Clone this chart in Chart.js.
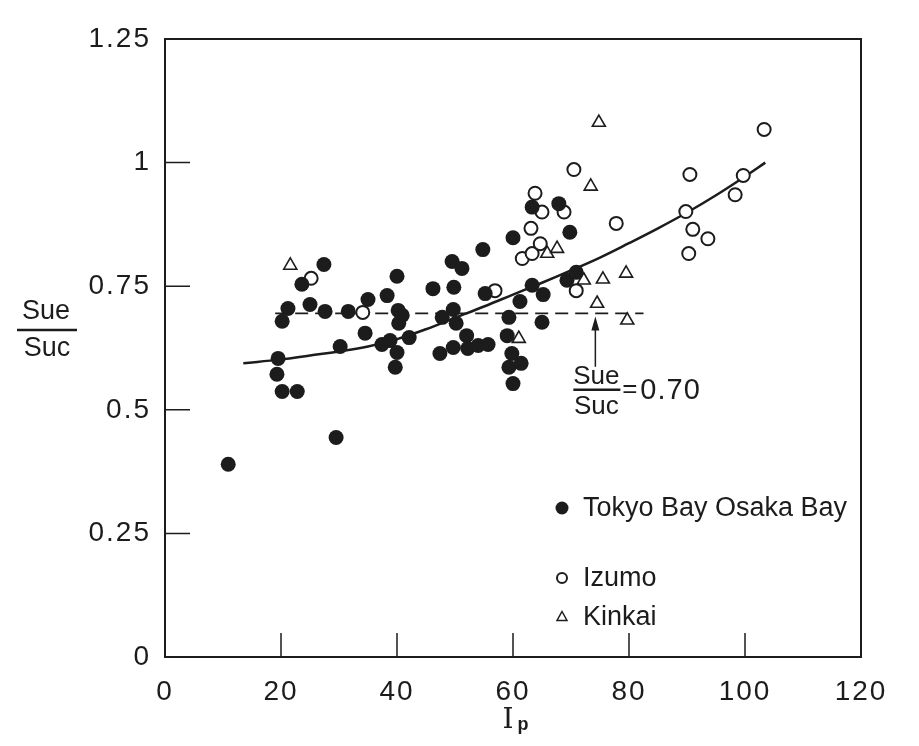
<!DOCTYPE html>
<html lang="en">
<head>
  <meta charset="UTF-8">
  <title>Sue/Suc vs Ip</title>
  <script src="https://cdn.jsdelivr.net/npm/chart.js"></script>
  <style>
    body {
      margin: 0;
      padding: 0;
      background: #fff;
    }
    .wrap {
      width: 919px;
      height: 746px;
    }
  </style>
</head>
<body>
  <div class="wrap">
    <canvas id="chart" width="919" height="746"></canvas>
  </div>

  <script>
    // Tokyo Bay / Osaka Bay (filled circles)
    const tokyoX = [10.9, 19.5, 19.3, 20.2, 22.8, 20.2, 21.2, 23.6, 25.0, 27.4, 27.6, 29.5, 30.2, 31.6,
      34.5, 35.0, 38.3, 37.4, 38.8, 40.0, 39.7, 40.0, 40.2, 40.9, 40.3, 42.1, 46.2, 47.4, 47.8,
      49.5, 51.2, 49.8, 49.7, 50.2, 49.7, 52.0, 52.2, 54.0, 55.7, 54.8, 55.2, 60.0, 59.3, 59.0,
      59.8, 59.3, 61.4, 60.0, 61.2, 63.3, 65.2, 65.0, 63.3, 67.9, 69.8, 69.3, 70.9];
    const tokyoY = [0.39, 0.604, 0.572, 0.537, 0.537, 0.679, 0.705, 0.754, 0.713, 0.794, 0.699, 0.444, 0.628, 0.699,
      0.655, 0.723, 0.731, 0.632, 0.640, 0.616, 0.586, 0.770, 0.701, 0.691, 0.675, 0.646, 0.745, 0.614, 0.687,
      0.800, 0.786, 0.748, 0.703, 0.675, 0.626, 0.650, 0.624, 0.630, 0.632, 0.824, 0.735, 0.848, 0.687, 0.650,
      0.614, 0.586, 0.594, 0.553, 0.719, 0.752, 0.733, 0.677, 0.910, 0.917, 0.859, 0.762, 0.778];

    // Izumo (open circles)
    const izumoX = [25.2, 34.1, 56.9, 61.6, 63.3, 64.7, 63.1, 63.8, 65.0, 68.8, 70.5, 70.9, 77.8,
      89.8, 90.5, 90.3, 91.0, 93.6, 98.3, 99.7, 103.3];
    const izumoY = [0.766, 0.697, 0.741, 0.806, 0.816, 0.836, 0.867, 0.938, 0.900, 0.900, 0.986, 0.741, 0.877,
      0.901, 0.976, 0.816, 0.865, 0.846, 0.935, 0.974, 1.067];

    // Kinkai (open triangles)
    const kinkaiX = [21.6, 61.0, 65.9, 67.6, 72.2, 73.4, 74.8, 74.5, 75.5, 79.5, 79.7];
    const kinkaiY = [0.792, 0.644, 0.816, 0.826, 0.762, 0.952, 1.081, 0.715, 0.764, 0.776, 0.681];

    // fitted curve
    const curveX = [13.5, 20, 25, 30, 35, 40, 45, 50, 55, 60, 65, 70, 75, 80, 85, 90, 95, 100, 103.5];
    const curveY = [0.594, 0.602, 0.610, 0.618, 0.628, 0.643, 0.663, 0.686, 0.709, 0.733, 0.757, 0.782,
      0.808, 0.837, 0.867, 0.899, 0.934, 0.972, 1.0];

    // Sue/Suc = 0.70 reference line
    const refX = [19, 82.5];
    const refY = [0.695, 0.695];
    const arrowX = 74.2;
    const arrowFromY = 0.587;

    const xTicks = [0, 20, 40, 60, 80, 100, 120];
    const yTicks = [0, 0.25, 0.5, 0.75, 1, 1.25];

    const ink = "#1c1c1c";
    const font = "'Liberation Sans', Arial, sans-serif";

    const toPoints = (xs, ys) => xs.map((x, i) => ({ x: x, y: ys[i] }));

    const drawMarker = (ctx, kind, x, y) => {
      ctx.save();
      ctx.strokeStyle = ink;
      ctx.fillStyle = ink;
      ctx.beginPath();
      if (kind === "filled") {
        ctx.arc(x, y, 6.5, 0, Math.PI * 2);
        ctx.fill();
      } else if (kind === "open") {
        ctx.lineWidth = 2;
        ctx.arc(x, y, 5, 0, Math.PI * 2);
        ctx.stroke();
      } else {
        ctx.lineWidth = 1.5;
        ctx.moveTo(x, y - 5.5);
        ctx.lineTo(x + 5, y + 3.5);
        ctx.lineTo(x - 5, y + 3.5);
        ctx.closePath();
        ctx.stroke();
      }
      ctx.restore();
    };

    // a little extra spacing for the tick numbers, like the scanned figure
    const tickSpacing = {
      id: "tickSpacing",
      beforeDraw(chart) {
        chart.ctx.letterSpacing = "2px";
      },
      beforeDatasetsDraw(chart) {
        chart.ctx.letterSpacing = "0px";
      }
    };

    const decorations = {
      id: "decorations",
      afterDraw(chart) {
        const ctx = chart.ctx;
        const a = chart.chartArea;
        const xs = chart.scales.x;
        const ys = chart.scales.y;
        ctx.save();
        ctx.letterSpacing = "0px";

        // frame
        ctx.strokeStyle = ink;
        ctx.lineWidth = 2;
        ctx.strokeRect(a.left, a.top, a.right - a.left, a.bottom - a.top);

        // inward ticks
        ctx.lineWidth = 1.5;
        ctx.beginPath();
        yTicks.slice(1, -1).forEach((v) => {
          const py = ys.getPixelForValue(v);
          ctx.moveTo(a.left, py);
          ctx.lineTo(a.left + 25, py);
        });
        xTicks.slice(1, -1).forEach((v) => {
          const px = xs.getPixelForValue(v);
          ctx.moveTo(px, a.bottom);
          ctx.lineTo(px, a.bottom - 24);
        });
        ctx.stroke();

        // y title as fraction
        ctx.fillStyle = ink;
        ctx.font = "27px " + font;
        ctx.textAlign = "center";
        ctx.textBaseline = "middle";
        const ty = (a.top + a.bottom) / 2;
        ctx.fillText("Sue", 46, ty - 36);
        ctx.fillText("Suc", 47, ty + 1);
        ctx.lineWidth = 2.5;
        ctx.beginPath();
        ctx.moveTo(17, ty - 18);
        ctx.lineTo(77, ty - 18);
        ctx.stroke();

        // x title: I with subscript p
        const cx = (a.left + a.right) / 2;
        ctx.font = "28px 'DejaVu Serif', 'Liberation Serif', serif";
        ctx.textBaseline = "alphabetic";
        ctx.fillText("I", cx - 5, 728);
        ctx.font = "bold 18px " + font;
        ctx.fillText("p", cx + 10, 730);

        // arrow to the dashed line
        const axp = xs.getPixelForValue(arrowX);
        const ay0 = ys.getPixelForValue(arrowFromY);
        const ay1 = ys.getPixelForValue(refY[0]) + 3;
        ctx.lineWidth = 1.5;
        ctx.beginPath();
        ctx.moveTo(axp, ay0);
        ctx.lineTo(axp, ay1 + 8);
        ctx.stroke();
        ctx.beginPath();
        ctx.moveTo(axp, ay1);
        ctx.lineTo(axp - 4, ay1 + 14);
        ctx.lineTo(axp + 4, ay1 + 14);
        ctx.closePath();
        ctx.fill();

        // annotation text
        ctx.font = "26px " + font;
        ctx.textAlign = "center";
        ctx.textBaseline = "middle";
        ctx.fillText("Sue", axp + 1, ay0 + 10);
        ctx.fillText("Suc", axp + 1, ay0 + 40);
        ctx.lineWidth = 2.5;
        ctx.beginPath();
        ctx.moveTo(axp - 22, ay0 + 23);
        ctx.lineTo(axp + 25, ay0 + 23);
        ctx.stroke();
        ctx.textAlign = "left";
        ctx.fillText("=", axp + 27, ay0 + 23);
        ctx.font = "29px " + font;
        ctx.letterSpacing = "1px";
        ctx.fillText("0.70", axp + 45, ay0 + 24);
        ctx.letterSpacing = "0px";

        // legend
        const lx = a.left + 397;
        const rows = [
          { kind: "filled", text: "Tokyo Bay Osaka Bay", y: a.top + 469 },
          { kind: "open", text: "Izumo", y: a.top + 539 },
          { kind: "tri", text: "Kinkai", y: a.top + 578 }
        ];
        ctx.font = "27px " + font;
        rows.forEach((r) => {
          drawMarker(ctx, r.kind, lx, r.y);
          ctx.fillStyle = ink;
          ctx.fillText(r.text, lx + 21, r.y + 1);
        });

        ctx.restore();
      }
    };

    new Chart(document.getElementById("chart"), {
      type: "scatter",
      data: {
        datasets: [
          {
            label: "Tokyo Bay Osaka Bay",
            data: toPoints(tokyoX, tokyoY),
            pointStyle: "circle",
            pointRadius: 7.5,
            backgroundColor: ink,
            borderColor: ink,
            borderWidth: 0,
            order: 1
          },
          {
            label: "Izumo",
            data: toPoints(izumoX, izumoY),
            pointStyle: "circle",
            pointRadius: 6.5,
            backgroundColor: "#fff",
            borderColor: ink,
            borderWidth: 2,
            order: 2
          },
          {
            label: "Kinkai",
            data: toPoints(kinkaiX, kinkaiY),
            pointStyle: "triangle",
            pointRadius: 7.5,
            backgroundColor: "#fff",
            borderColor: ink,
            borderWidth: 1.6,
            order: 3
          },
          {
            label: "fit",
            data: toPoints(curveX, curveY),
            showLine: true,
            pointRadius: 0,
            borderColor: ink,
            borderWidth: 2.5,
            tension: 0.4,
            fill: false,
            order: 5
          },
          {
            label: "Sue/Suc = 0.70",
            data: toPoints(refX, refY),
            showLine: true,
            pointRadius: 0,
            borderColor: ink,
            borderWidth: 1.6,
            borderDash: [13, 7],
            fill: false,
            order: 6
          }
        ]
      },
      options: {
        responsive: false,
        animation: false,
        layout: { padding: { top: 39, right: 58, left: 0, bottom: 0 } },
        plugins: {
          legend: { display: false },
          tooltip: { enabled: false }
        },
        scales: {
          x: {
            type: "linear",
            min: 0,
            max: 120,
            afterFit: (scale) => { scale.height = 89; },
            afterBuildTicks: (scale) => { scale.ticks = xTicks.map((v) => ({ value: v })); },
            grid: { display: false },
            border: { display: false },
            ticks: {
              color: ink,
              padding: 10,
              font: { size: 28, family: font },
              callback: (v) => String(v)
            }
          },
          y: {
            type: "linear",
            min: 0,
            max: 1.25,
            afterFit: (scale) => { scale.width = 165; },
            afterBuildTicks: (scale) => { scale.ticks = yTicks.map((v) => ({ value: v })); },
            grid: { display: false },
            border: { display: false },
            ticks: {
              color: ink,
              padding: 6,
              font: { size: 28, family: font },
              callback: (v) => String(v)
            }
          }
        }
      },
      plugins: [tickSpacing, decorations]
    });
  </script>
</body>
</html>
